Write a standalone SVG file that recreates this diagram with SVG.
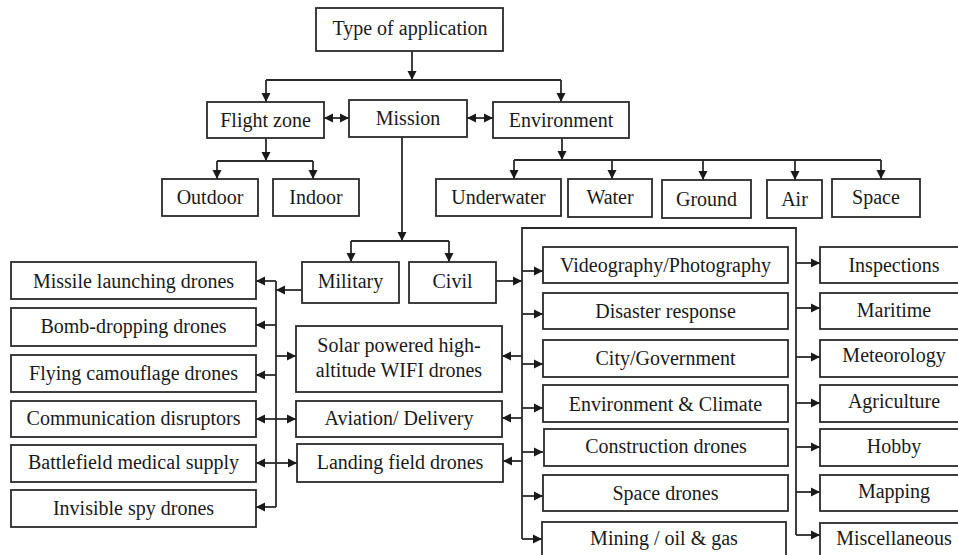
<svg xmlns="http://www.w3.org/2000/svg" width="958" height="555" viewBox="0 0 958 555">
<style>
  rect { fill: #fff; stroke: #2a2a2a; stroke-width: 1.8; }
  text { font-family: "Liberation Serif", "Times New Roman", serif; font-size: 20px; fill: #1a1a1a; text-anchor: middle; }
  .c { fill: none; stroke: #2a2a2a; stroke-width: 1.8; }
  .a { marker-end: url(#ah); }
  .d { marker-start: url(#ah); marker-end: url(#ah); }
</style>
<defs>
  <marker id="ah" viewBox="0 0 10 10" refX="10" refY="5" markerWidth="9" markerHeight="10" markerUnits="userSpaceOnUse" orient="auto-start-reverse">
    <path d="M0,0 L10,5 L0,10 z" fill="#1a1a1a"/>
  </marker>
</defs>
<rect x="0" y="0" width="958" height="555" style="fill:#fff;stroke:none"/>
<g id="connectors">
  <path class="c a" d="M412,51 V80"/>
  <path class="c" d="M266,80 H561"/>
  <path class="c a" d="M266,80 V102"/>
  <path class="c a" d="M561,80 V102"/>
  <path class="c d" d="M324,118 H349"/>
  <path class="c d" d="M467,118 H493"/>
  <path class="c a" d="M266,138 V161"/>
  <path class="c" d="M217,161 H313"/>
  <path class="c a" d="M217,161 V179"/>
  <path class="c a" d="M313,161 V179"/>
  <path class="c a" d="M562,138 V160"/>
  <path class="c" d="M514,160 H881"/>
  <path class="c a" d="M514,160 V179"/>
  <path class="c a" d="M612,160 V179"/>
  <path class="c a" d="M703,160 V180"/>
  <path class="c a" d="M795,160 V180"/>
  <path class="c a" d="M881,160 V179"/>
  <path class="c a" d="M402,137 V241"/>
  <path class="c" d="M351,241 H449"/>
  <path class="c a" d="M351,241 V262"/>
  <path class="c a" d="M449,241 V262"/>
  <path class="c a" d="M302,290 H276"/>
  <path class="c" d="M276,281 V507"/>
  <path class="c a" d="M276,281 H256"/>
  <path class="c a" d="M276,325 H256"/>
  <path class="c a" d="M276,375 H256"/>
  <path class="c a" d="M276,419 H256"/>
  <path class="c a" d="M276,463 H256"/>
  <path class="c a" d="M276,507 H256"/>
  <path class="c a" d="M276,356 H296"/>
  <path class="c a" d="M276,419 H296"/>
  <path class="c a" d="M276,463 H297"/>
  <path class="c a" d="M496,281 H522"/>
  <path class="c" d="M522,539 V228 H796 V535"/>
  <path class="c a" d="M522,271 H543"/>
  <path class="c a" d="M522,314 H543"/>
  <path class="c a" d="M522,364 H543"/>
  <path class="c a" d="M522,408 H543"/>
  <path class="c a" d="M522,452 H543"/>
  <path class="c a" d="M522,496 H543"/>
  <path class="c a" d="M522,539 H542"/>
  <path class="c a" d="M522,356 H502"/>
  <path class="c a" d="M522,418 H502"/>
  <path class="c a" d="M522,461 H503"/>
  <path class="c a" d="M796,263 H820"/>
  <path class="c a" d="M796,308 H820"/>
  <path class="c a" d="M796,357 H820"/>
  <path class="c a" d="M796,403 H820"/>
  <path class="c a" d="M796,447 H820"/>
  <path class="c a" d="M796,492 H820"/>
  <path class="c a" d="M796,535 H820"/>
</g>
<g id="type"><rect x="316" y="8" width="187" height="43"/><text x="410" y="35">Type of application</text></g>
<g id="flightzone"><rect x="207" y="102" width="117" height="36"/><text x="265.5" y="127">Flight zone</text></g>
<g id="mission"><rect x="349" y="100" width="118" height="37"/><text x="408" y="125">Mission</text></g>
<g id="environment"><rect x="493" y="102" width="136" height="36"/><text x="561" y="127">Environment</text></g>
<g id="outdoor"><rect x="162" y="179" width="96" height="37"/><text x="210" y="204">Outdoor</text></g>
<g id="indoor"><rect x="273" y="179" width="86" height="37"/><text x="316" y="204">Indoor</text></g>
<g id="underwater"><rect x="436" y="179" width="125" height="37"/><text x="498.5" y="204">Underwater</text></g>
<g id="water"><rect x="568" y="179" width="84" height="38"/><text x="610" y="204">Water</text></g>
<g id="ground"><rect x="662" y="180" width="89" height="38"/><text x="706.5" y="206">Ground</text></g>
<g id="air"><rect x="767" y="180" width="55" height="38"/><text x="794.5" y="206">Air</text></g>
<g id="space"><rect x="832" y="179" width="88" height="38"/><text x="876" y="204">Space</text></g>
<g id="military"><rect x="302" y="262" width="97" height="41"/><text x="350.5" y="288">Military</text></g>
<g id="civil"><rect x="409" y="262" width="87" height="41"/><text x="452.5" y="288">Civil</text></g>
<g id="missile"><rect x="11" y="262" width="245" height="37"/><text x="133.5" y="288">Missile launching drones</text></g>
<g id="bomb"><rect x="11" y="308" width="245" height="38"/><text x="133.5" y="333">Bomb-dropping drones</text></g>
<g id="camouflage"><rect x="11" y="355" width="245" height="37"/><text x="133.5" y="380">Flying camouflage drones</text></g>
<g id="disruptors"><rect x="11" y="401" width="245" height="36"/><text x="133.5" y="425">Communication disruptors</text></g>
<g id="medical"><rect x="11" y="445" width="245" height="37"/><text x="133.5" y="469">Battlefield medical supply</text></g>
<g id="spy"><rect x="11" y="490" width="245" height="37"/><text x="133.5" y="515">Invisible spy drones</text></g>
<g id="solar"><rect x="296" y="326" width="206" height="66"/><text x="399" y="352">Solar powered high-</text><text x="399" y="377">altitude WIFI drones</text></g>
<g id="aviation"><rect x="296" y="401" width="206" height="36"/><text x="399" y="425">Aviation/ Delivery</text></g>
<g id="landing"><rect x="297" y="444" width="206" height="38"/><text x="400" y="469">Landing field drones</text></g>
<g id="videography"><rect x="543" y="247" width="245" height="36"/><text x="665.5" y="272">Videography/Photography</text></g>
<g id="disaster"><rect x="543" y="293" width="245" height="36"/><text x="665.5" y="318">Disaster response</text></g>
<g id="city"><rect x="543" y="340" width="245" height="37"/><text x="665.5" y="365">City/Government</text></g>
<g id="climate"><rect x="543" y="385" width="245" height="37"/><text x="665.5" y="411">Environment &amp; Climate</text></g>
<g id="construction"><rect x="544" y="429" width="244" height="37"/><text x="666" y="453">Construction drones</text></g>
<g id="spacedrones"><rect x="543" y="475" width="245" height="36"/><text x="665.5" y="500">Space drones</text></g>
<g id="mining"><rect x="542" y="522" width="244" height="40"/><text x="664" y="545">Mining / oil &amp; gas</text></g>
<g id="inspections"><rect x="820" y="247" width="148" height="36"/><text x="894" y="272">Inspections</text></g>
<g id="maritime"><rect x="820" y="293" width="148" height="36"/><text x="894" y="317">Maritime</text></g>
<g id="meteorology"><rect x="820" y="340" width="148" height="37"/><text x="894" y="362">Meteorology</text></g>
<g id="agriculture"><rect x="820" y="385" width="148" height="37"/><text x="894" y="408">Agriculture</text></g>
<g id="hobby"><rect x="820" y="429" width="148" height="37"/><text x="894" y="453">Hobby</text></g>
<g id="mapping"><rect x="820" y="475" width="148" height="36"/><text x="894" y="498">Mapping</text></g>
<g id="misc"><rect x="820" y="523" width="148" height="40"/><text x="894" y="545">Miscellaneous</text></g>
</svg>
